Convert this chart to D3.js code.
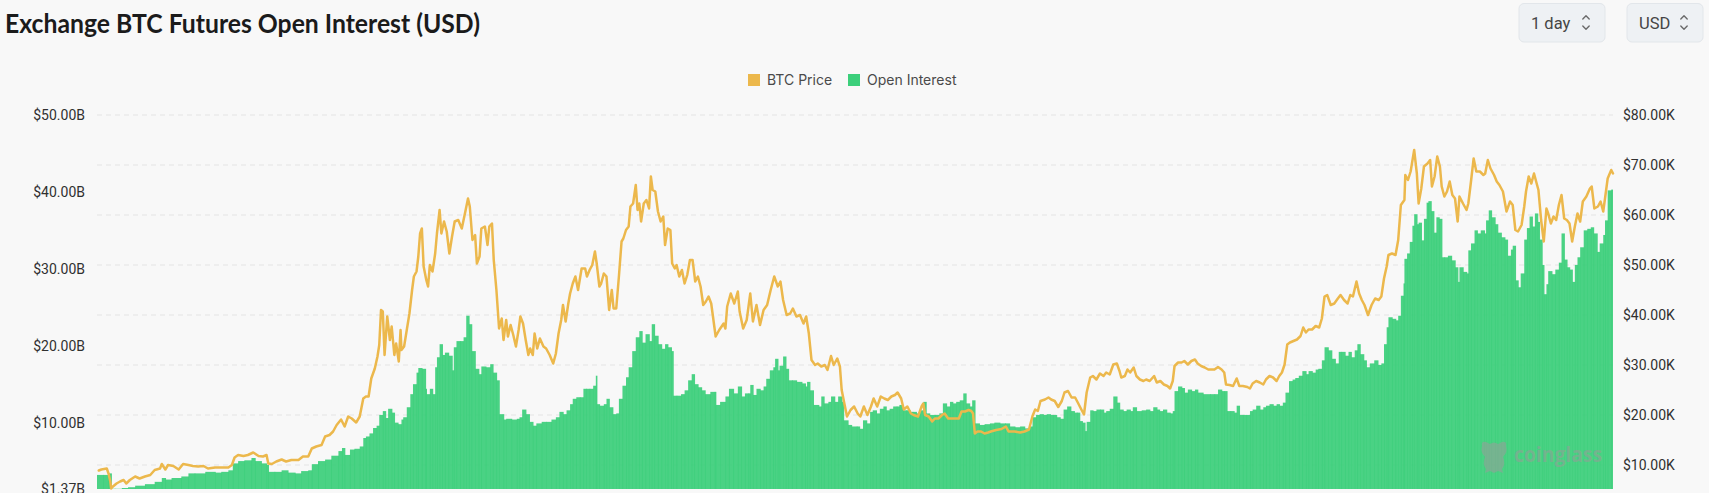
<!DOCTYPE html>
<html><head><meta charset="utf-8">
<script src="https://cdn.jsdelivr.net/npm/d3@7"></script>
<style>
html,body{margin:0;padding:0;background:#f8f8f8;overflow:hidden;}
svg{display:block;}
</style></head><body>
<svg id="chart" width="1709" height="493"></svg>
<script>
// ---------------- DATA ----------------
const chartTitle = "Exchange BTC Futures Open Interest (USD)";
const controls = ["1 day", "USD"];
const seriesNames = ["BTC Price", "Open Interest"];
const seriesColors = ["#ecb84c", "#3ccf7b"];
const startDate = "2020-02-26";
const totalDays = 1708;
// Open interest: [days after startDate, billions USD]
const openInterest = [
 [0,3.2],[7,3.2],[13,3.4],[16,1.4],[20,1.4],[28,1.5],[35,1.6],[43,1.8],[54,2.0],[65,2.3],
 [73,2.8],[77,2.6],[84,2.8],[95,3.0],[103,3.4],[110,3.4],[122,3.6],[133,3.5],[140,3.6],[148,3.8],
 [153,4.7],[159,5.0],[166,5.1],[174,5.4],[178,5.0],[185,4.7],[191,4.5],[193,3.6],[200,3.6],[208,3.8],
 [215,3.5],[223,3.4],[230,3.7],[238,3.8],[242,4.6],[249,5.0],[257,5.2],[264,5.7],[272,6.3],[276,6.7],
 [279,5.8],[285,6.5],[290,6.6],[296,6.9],[300,8.0],[303,8.2],[307,8.6],[311,9.3],[315,9.6],[318,11.0],
 [322,11.5],[325,10.6],[328,11.8],[332,11.3],[335,10.0],[339,9.8],[343,10.4],
 [345,10.7],[349,12.0],[353,13.7],[356,15.0],[360,16.5],[362,17.1],[366,17.0],[370,14.4],[371,13.7],[375,14.4],
 [378,13.7],[381,17.2],[383,18.5],[386,20.2],[389,18.8],[392,19.1],[396,18.7],[400,16.8],[402,19.8],[405,20.6],
 [409,20.6],[413,21.1],[416,23.9],[419,22.8],[422,19.3],[426,17.0],[430,16.3],[433,17.3],[438,17.2],[443,17.6],
 [446,16.5],[450,15.5],[453,11.1],[458,10.4],[461,10.5],[467,10.4],[473,10.5],[476,10.7],[479,11.7],[483,11.1],
 [487,10.1],[491,9.6],[495,9.9],[501,10.1],[506,10.1],[512,10.4],[517,10.7],[521,11.4],[525,11.1],[529,11.6],
 [533,12.4],[536,13.1],[540,13.3],[544,13.3],[548,14.4],[551,14.4],[555,14.4],[559,14.8],[562,16.1],[563,12.4],
 [566,12.2],[571,12.4],[574,13.1],[577,12.0],[581,11.1],[585,11.2],[588,13.1],[592,14.8],[596,15.9],[599,17.2],
 [603,19.3],[607,21.1],[611,21.9],[614,20.4],[618,21.5],[622,20.6],[625,22.8],[628,21.3],[632,20.2],[636,19.6],
 [640,20.2],[643,19.8],[647,19.3],[649,13.5],[653,13.5],[658,13.7],[662,14.2],[666,15.5],[670,16.3],[673,15.0],
 [677,14.6],[681,14.2],[685,13.7],
 [691,14.0],[696,14.0],[697,12.3],[702,12.7],[708,13.4],[712,14.4],[717,13.8],[722,14.7],[726,13.4],[730,13.8],
 [734,13.8],[736,14.9],[739,13.6],[743,14.4],[747,14.2],[751,14.7],[754,15.7],[758,16.8],[762,17.2],[764,18.3],
 [767,16.8],[769,17.4],[773,18.6],[776,17.0],[779,15.5],[783,15.5],[788,15.3],[794,15.1],[798,14.7],[800,15.3],
 [803,14.2],[807,12.3],[813,12.1],[816,13.4],[819,12.5],[824,12.7],[827,13.4],[831,12.7],[835,13.4],[839,12.7],
 [841,10.3],[846,9.7],[850,9.5],[856,9.5],[859,9.2],[863,10.3],[867,9.9],[871,11.4],[874,11.6],[878,11.2],
 [882,11.8],[886,12.1],[889,11.6],[893,11.8],[897,12.1],[901,12.1],[904,12.3],[908,11.6],[912,11.6],[916,11.4],
 [919,11.4],[923,11.2],[927,11.6],[931,12.7],[934,11.2],[938,11.0],[944,11.0],[949,11.2],[953,12.5],[957,12.1],
 [961,12.7],[964,12.5],[968,12.7],[972,12.9],[976,13.8],[979,12.5],[983,12.1],[986,12.9],[989,9.9],[994,9.7],
 [1000,9.8],[1006,9.9],[1011,10.0],[1017,9.9],[1023,9.9],[1028,9.5],
 [1034,9.4],[1040,9.5],[1045,9.25],[1051,9.5],[1054,10.7],[1058,11.0],[1062,11.1],[1066,11.0],[1070,11.1],[1074,11.0],
 [1077,11.0],[1081,10.7],[1085,10.5],[1089,11.7],[1093,12.1],[1097,11.5],[1101,11.3],[1104,11.3],[1107,10.2],[1110,10.0],
 [1113,8.9],[1115,10.1],[1119,11.6],[1122,11.5],[1126,11.7],[1130,11.7],[1134,11.3],[1137,11.5],[1141,11.8],[1145,13.4],
 [1149,12.6],[1152,11.7],[1156,11.5],[1160,11.7],[1164,11.5],[1167,12.0],[1171,11.5],[1177,11.6],[1182,11.7],[1186,11.5],
 [1190,12.0],[1194,11.7],[1197,11.5],[1201,11.7],[1205,11.3],[1209,11.2],[1212,11.5],[1214,14.1],[1218,14.7],[1222,14.5],
 [1225,13.9],[1229,14.3],[1233,14.1],[1237,14.3],[1240,13.9],[1246,13.7],[1254,13.7],[1259,13.7],[1263,14.3],[1267,14.1],
 [1270,14.1],[1273,11.5],[1277,11.5],[1281,11.3],[1284,12.2],[1287,11.0],[1291,11.0],[1295,11.0],[1299,11.5],[1302,11.7],
 [1306,12.2],[1310,11.7],[1314,12.0],[1317,12.2],[1321,12.4],[1325,12.2],[1329,12.4],[1332,12.2],[1336,12.6],[1339,13.9],
 [1343,15.4],[1347,15.6],[1350,15.8],[1354,16.1],[1358,16.7],[1362,16.3],[1365,16.7],[1369,16.5],[1373,16.9],
 [1376,17.0],[1380,18.1],[1383,19.8],[1387,19.4],[1391,18.3],[1395,17.7],[1399,19.2],[1402,19.2],[1406,18.7],[1410,19.2],
 [1413,18.5],[1417,19.4],[1420,20.2],[1423,18.9],[1427,18.1],[1430,17.2],[1434,17.7],[1439,18.1],[1443,17.5],[1447,17.7],
 [1450,20.2],[1453,22.4],[1455,23.7],[1459,23.5],[1463,23.3],[1466,23.9],[1469,26.5],[1472,28.1],[1473,31.3],[1476,32.0],
 [1479,33.5],[1482,35.6],[1484,37.1],[1487,35.8],[1489,36.0],[1492,33.7],[1495,36.5],[1498,38.6],[1500,38.8],[1503,37.5],
 [1506,34.7],[1509,36.7],[1512,36.5],[1515,31.5],[1518,31.5],[1522,31.7],[1526,31.1],[1530,30.2],[1533,28.3],[1535,30.2],
 [1539,29.6],[1543,29.4],[1545,32.4],[1548,33.3],[1552,35.0],[1555,34.6],[1559,35.0],[1563,34.6],[1565,36.3],[1568,37.6],
 [1571,36.7],[1575,35.8],[1578,34.7],[1582,34.1],[1586,33.8],[1589,31.7],[1593,32.5],[1595,33.0],[1598,28.5],[1601,27.6],
 [1604,29.4],[1608,33.8],[1611,35.3],[1614,36.8],[1617,35.5],[1620,37.2],[1623,36.1],[1625,33.8],[1628,30.5],[1630,26.7],
 [1633,28.0],[1635,29.7],[1639,29.3],[1643,29.9],[1647,30.8],[1650,34.6],[1653,31.2],[1656,30.2],[1659,29.9],[1662,28.3],
 [1665,30.5],[1668,31.5],[1671,32.8],[1675,35.0],[1679,35.2],[1683,35.4],[1686,34.6],[1690,32.2],[1693,33.3],[1697,34.4],
 [1699,36.3],[1702,40.2],[1706,40.3]
];
// BTC price: [days after startDate, price in thousands USD]
const btcPrice = [
 [2,8.9],[5,9.1],[11,9.3],[13,8.3],[15,6.7],[16,5.3],[18,5.7],[22,6.3],[26,6.7],[30,7.0],
 [33,6.3],[37,7.0],[43,7.7],[48,7.3],[54,7.7],[60,8.0],[65,9.0],[71,9.3],[73,10.2],[77,9.1],
 [80,10.0],[86,9.8],[92,9.1],[97,10.2],[103,10.0],[108,9.8],[114,9.7],[120,9.8],[125,9.3],[133,9.5],
 [140,9.5],[148,9.5],[152,10.0],[155,11.5],[159,12.0],[165,11.8],[170,12.0],[176,12.5],[182,11.8],[187,11.7],
 [191,12.0],[193,10.3],[197,10.2],[202,10.7],[208,11.1],[213,10.7],[219,11.0],[227,11.0],[232,11.7],[238,11.7],
 [242,13.3],[247,13.7],[253,14.0],[257,15.7],[262,16.0],[266,16.7],[270,18.0],[275,19.1],[279,17.7],[283,19.7],
 [287,19.3],[292,18.5],[296,19.7],[300,23.3],[303,23.7],[306,23.7],[309,27.3],[313,29.3],[316,31.7],[318,34.0],
 [320,41.0],[322,40.7],[324,32.0],[327,39.7],[330,35.0],[332,37.7],[335,32.0],[337,34.3],[340,30.7],[342,37.0],
 [343,33.0],[346,33.7],[349,37.0],[352,40.3],[355,45.0],[357,47.7],[360,48.7],[362,51.7],[364,56.3],[366,57.3],
 [368,49.7],[371,47.0],[373,45.7],[375,50.0],[378,48.7],[381,52.3],[383,56.3],[386,61.0],[388,56.3],[391,58.7],
 [394,56.7],[397,52.3],[400,55.7],[403,58.7],[407,59.0],[411,57.3],[415,60.7],[418,63.3],[420,61.7],[423,55.0],
 [426,56.0],[428,50.3],[431,51.7],[433,57.3],[437,57.7],[440,54.0],[442,57.7],[445,58.3],[447,51.0],[450,45.0],
 [453,37.3],[456,39.3],[458,35.0],[461,39.0],[463,35.7],[466,38.0],[469,36.0],[472,33.7],[475,37.0],[477,39.7],
 [480,38.3],[483,35.0],[486,32.0],[488,33.3],[491,32.0],[493,36.3],[496,33.3],[499,35.3],[503,33.7],[506,33.3],
 [510,32.0],[514,30.3],[517,32.3],[520,36.3],[523,39.0],[525,42.0],[528,38.7],[531,42.3],[533,44.3],[536,46.3],
 [539,47.7],[542,45.0],[546,49.3],[550,49.3],[552,47.7],[555,49.0],[558,50.0],[561,52.7],[563,50.3],[566,45.7],
 [568,46.3],[571,48.3],[574,47.7],[577,41.0],[580,45.0],[582,41.3],[585,41.3],[588,47.7],[591,54.7],[593,55.3],
 [596,57.0],[599,57.7],[601,61.7],[604,62.3],[607,66.0],[609,61.0],[611,62.3],[613,58.7],[616,62.3],[619,63.0],
 [622,61.3],[624,67.7],[626,65.0],[629,64.7],[632,60.7],[635,58.7],[638,59.7],[640,54.0],[643,57.3],[646,57.0],
 [648,50.3],[651,49.3],[653,50.0],[656,47.7],[659,49.0],[662,46.3],[665,48.0],[668,51.0],[671,51.0],[674,46.7],
 [677,47.7],[680,45.7],[683,42.0],[686,42.7],[689,43.7],[692,42.3],[697,35.7],[701,37.0],[706,38.3],[708,37.3],
 [710,41.7],[714,44.3],[718,42.3],[722,44.7],[724,40.7],[728,37.3],[732,39.0],[736,44.3],[739,38.7],[743,42.0],
 [747,38.0],[751,41.0],[755,42.0],[759,45.0],[763,47.7],[767,45.7],[770,46.7],[773,43.0],[777,40.0],[781,40.3],
 [784,41.3],[788,39.7],[792,40.0],[796,38.3],[799,39.7],[802,36.3],[805,31.0],[809,30.0],[812,30.3],[816,29.7],
 [820,30.0],[823,29.0],[827,31.8],[830,30.0],[834,31.3],[837,29.7],[839,25.0],[842,22.3],[845,19.7],[849,21.0],
 [853,21.7],[857,20.3],[860,19.7],[864,21.7],[868,20.0],[872,21.7],[875,23.3],[879,21.7],[883,23.7],[887,23.3],
 [891,23.0],[895,23.7],[899,24.0],[902,24.5],[906,23.3],[909,21.1],[913,21.7],[917,20.3],[920,20.0],[925,19.7],
 [929,21.7],[931,22.3],[933,20.0],[937,19.7],[941,18.7],[944,19.3],[948,19.3],[952,20.0],[955,20.3],[959,19.3],
 [962,19.3],[967,19.3],[971,19.3],[974,20.7],[978,20.7],[982,21.0],[985,20.8],[987,20.3],[989,16.3],[992,16.7],
 [996,16.7],[1000,16.3],[1004,16.5],[1007,16.7],[1013,17.0],[1019,17.2],[1024,17.7],[1027,16.7],[1034,16.7],[1040,16.5],
 [1045,16.7],[1050,17.1],[1054,19.8],[1057,21.1],[1060,20.8],[1063,22.8],[1068,23.1],[1072,23.5],[1075,23.1],[1079,22.8],
 [1083,21.6],[1087,22.8],[1090,24.5],[1094,24.8],[1098,23.5],[1102,23.5],[1105,22.5],[1109,21.1],[1112,20.1],[1115,24.5],
 [1119,27.5],[1122,27.8],[1126,27.1],[1130,28.3],[1134,27.8],[1137,28.5],[1141,28.1],[1145,30.1],[1149,30.3],[1152,28.8],
 [1154,27.5],[1158,27.8],[1161,29.1],[1164,28.5],[1168,29.5],[1171,27.8],[1175,27.1],[1179,26.8],[1182,27.1],[1186,26.8],
 [1191,27.8],[1194,26.5],[1198,26.8],[1202,26.1],[1206,25.8],[1209,25.3],[1212,26.8],[1214,29.8],[1218,30.5],[1222,30.5],
 [1225,30.8],[1229,30.1],[1233,30.8],[1237,31.1],[1240,30.3],[1244,29.8],[1248,29.5],[1252,29.1],[1255,29.1],[1259,29.1],
 [1263,29.6],[1267,29.1],[1270,28.5],[1272,26.1],[1276,26.0],[1280,25.8],[1284,27.3],[1287,25.8],[1291,25.8],[1296,25.6],
 [1299,25.3],[1302,26.3],[1306,26.8],[1310,26.5],[1314,26.1],[1317,27.1],[1321,27.8],[1325,27.5],[1329,26.8],[1332,27.8],
 [1335,28.5],[1338,30.1],[1341,34.1],[1344,34.5],[1348,34.8],[1352,35.1],[1356,35.8],[1359,37.5],[1362,36.5],[1365,37.1],
 [1369,37.1],[1373,37.8],[1377,37.5],[1380,39.3],[1383,43.7],[1386,44.0],[1390,42.0],[1394,42.3],[1398,43.3],[1401,44.0],
 [1405,43.0],[1409,42.3],[1412,44.0],[1415,43.7],[1419,46.7],[1422,44.3],[1425,43.0],[1428,42.0],[1432,40.0],[1436,42.0],
 [1440,43.3],[1444,43.0],[1447,43.7],[1450,47.3],[1453,49.7],[1455,52.0],[1459,52.3],[1463,52.0],[1466,55.0],[1469,62.0],
 [1473,63.0],[1474,68.0],[1477,67.0],[1480,68.7],[1484,73.0],[1487,68.3],[1489,62.3],[1492,65.3],[1495,69.7],[1499,70.3],
 [1502,71.0],[1504,65.7],[1507,67.7],[1510,71.7],[1513,69.7],[1515,65.7],[1518,63.7],[1521,64.7],[1524,66.7],[1527,64.0],
 [1530,63.3],[1533,58.7],[1535,63.7],[1539,62.3],[1543,61.0],[1545,62.3],[1548,66.7],[1551,71.3],[1554,68.7],[1558,68.7],
 [1562,68.0],[1564,68.3],[1567,71.0],[1570,69.3],[1574,68.0],[1577,66.7],[1580,66.0],[1584,64.7],[1588,60.7],[1592,62.7],
 [1595,62.0],[1598,57.0],[1601,56.7],[1605,58.0],[1608,61.7],[1610,64.7],[1613,67.7],[1616,66.3],[1619,68.3],[1622,66.3],
 [1624,65.0],[1627,59.0],[1630,54.7],[1633,61.3],[1635,60.3],[1638,58.3],[1641,59.7],[1644,59.0],[1647,62.0],[1650,64.0],
 [1653,59.3],[1656,59.0],[1659,58.3],[1662,54.7],[1665,57.7],[1668,60.3],[1671,58.7],[1674,62.7],[1678,63.7],[1682,65.3],
 [1684,65.7],[1687,61.3],[1691,61.7],[1694,62.7],[1697,60.7],[1699,63.3],[1702,67.3],[1706,69.0],[1708,68.3]
];
const leftTicks = [1.37, 10, 20, 30, 40, 50];
const leftTickLabels = ["$1.37B", "$10.00B", "$20.00B", "$30.00B", "$40.00B", "$50.00B"];
const rightTicks = [10, 20, 30, 40, 50, 60, 70, 80];
const rightTickLabels = ["$10.00K", "$20.00K", "$30.00K", "$40.00K", "$50.00K", "$60.00K", "$70.00K", "$80.00K"];

// ---------------- LAYOUT ----------------
const svg = d3.select("#chart");
const plot = {left: 97, right: 1613, top: 115, bottom: 489};
const t0 = d3.utcParse("%Y-%m-%d")(startDate);
const day = n => d3.utcDay.offset(t0, n);
const x = d3.scaleUtc().domain([t0, day(totalDays)]).range([plot.left, plot.right]);
const yL = d3.scaleLinear().domain([1.37, 50]).range([plot.bottom, plot.top]);
const yR = d3.scaleLinear().domain([5.2, 80]).range([plot.bottom, plot.top]);
const axisFont = "Roboto, 'Noto Sans', sans-serif";

svg.append("rect").attr("width", 1709).attr("height", 493).attr("fill", "#f8f8f8");

// title
svg.append("text").text(chartTitle)
  .attr("x", 5).attr("y", 33)
  .attr("font-family", "Lato, 'Open Sans', sans-serif").attr("font-weight", 700)
  .attr("font-size", 27).attr("fill", "#1b1b1b")
  .attr("textLength", 475).attr("lengthAdjust", "spacingAndGlyphs");

// controls
const ctrl = [{x: 1519, w: 86}, {x: 1627, w: 76}];
controls.forEach((label, i) => {
  const g = svg.append("g").attr("transform", `translate(${ctrl[i].x},3.5)`);
  g.append("rect").attr("width", ctrl[i].w).attr("height", 38.5).attr("rx", 5)
    .attr("fill", "#eef1f4").attr("stroke", "#e2e6ea");
  g.append("text").text(label).attr("x", 12).attr("y", 25)
    .attr("font-family", axisFont).attr("font-size", 16.5).attr("fill", "#454545");
  const cx = ctrl[i].w - 19;
  g.append("path").attr("d", `M${cx-3.2},15.5L${cx},12.3L${cx+3.2},15.5M${cx-3.2},22.5L${cx},25.7L${cx+3.2},22.5`)
    .attr("fill", "none").attr("stroke", "#6a6a6a").attr("stroke-width", 1.4)
    .attr("stroke-linecap", "round").attr("stroke-linejoin", "round");
});

// legend
const legendX = [748, 848];
seriesNames.forEach((name, i) => {
  svg.append("rect").attr("x", legendX[i]).attr("y", 74).attr("width", 12).attr("height", 12)
    .attr("fill", seriesColors[i]);
  svg.append("text").text(name).attr("x", legendX[i] + 19).attr("y", 85)
    .attr("font-family", "Inter, Roboto, sans-serif").attr("font-size", 14).attr("fill", "#4a4a4a");
});

// grid lines (right axis ticks)
svg.append("g").selectAll("line").data(rightTicks).join("line")
  .attr("x1", plot.left).attr("x2", plot.right)
  .attr("y1", d => yR(d)).attr("y2", d => yR(d))
  .attr("stroke", "#e4e4e4").attr("stroke-width", 1).attr("stroke-dasharray", "5,4");

// open interest bars (each reading spans to the next one)
svg.append("g").selectAll("rect").data(openInterest).join("rect")
  .attr("x", d => x(day(d[0])))
  .attr("y", d => yL(d[1]))
  .attr("width", (d, i) => {
    const nextDay = i < openInterest.length - 1 ? openInterest[i + 1][0] : totalDays;
    const w = x(day(nextDay)) - x(day(d[0]));
    return i < openInterest.length - 1 ? w + 0.7 : w;
  })
  .attr("height", d => plot.bottom - yL(d[1]))
  .attr("fill", seriesColors[1]).attr("fill-opacity", 0.93);

// watermark
const wm = svg.append("g").attr("fill", "#9a9a9a").attr("fill-opacity", 0.55);
wm.append("path").attr("d",
  "M1482,446 Q1481,441 1486,442 L1490,444 Q1494,441 1498,444 L1502,442 Q1507,441 1506,446 Q1508,452 1503,457 " +
  "Q1506,464 1502,469 L1503,473 L1498,471 L1494,473 L1490,471 L1485,473 L1486,469 Q1482,464 1485,457 Q1480,452 1482,446Z");
wm.append("text").text("coinglass").attr("x", 1514).attr("y", 462)
  .attr("font-family", "'Open Sans', sans-serif").attr("font-weight", 700).attr("font-size", 21)
  .attr("textLength", 88).attr("lengthAdjust", "spacingAndGlyphs");

// price line
const line = d3.line()
  .x(p => x(day(p[0])))
  .y(p => yR(p[1]));
svg.append("path").datum(btcPrice).attr("d", line)
  .attr("fill", "none").attr("stroke", seriesColors[0]).attr("stroke-width", 2.5)
  .attr("stroke-linejoin", "round").attr("stroke-linecap", "round");

// axes
const axL = svg.append("g").attr("transform", "translate(85,0)")
  .call(d3.axisLeft(yL).tickValues(leftTicks).tickFormat((d, i) => leftTickLabels[i]).tickSize(0).tickPadding(0));
const axR = svg.append("g").attr("transform", "translate(1623,0)")
  .call(d3.axisRight(yR).tickValues(rightTicks).tickFormat((d, i) => rightTickLabels[i]).tickSize(0).tickPadding(0));
[axL, axR].forEach(ax => {
  ax.select(".domain").remove();
  ax.attr("font-family", axisFont).attr("font-size", 14);
  ax.selectAll("text").attr("fill", "#303030");
});
</script>
</body></html>
